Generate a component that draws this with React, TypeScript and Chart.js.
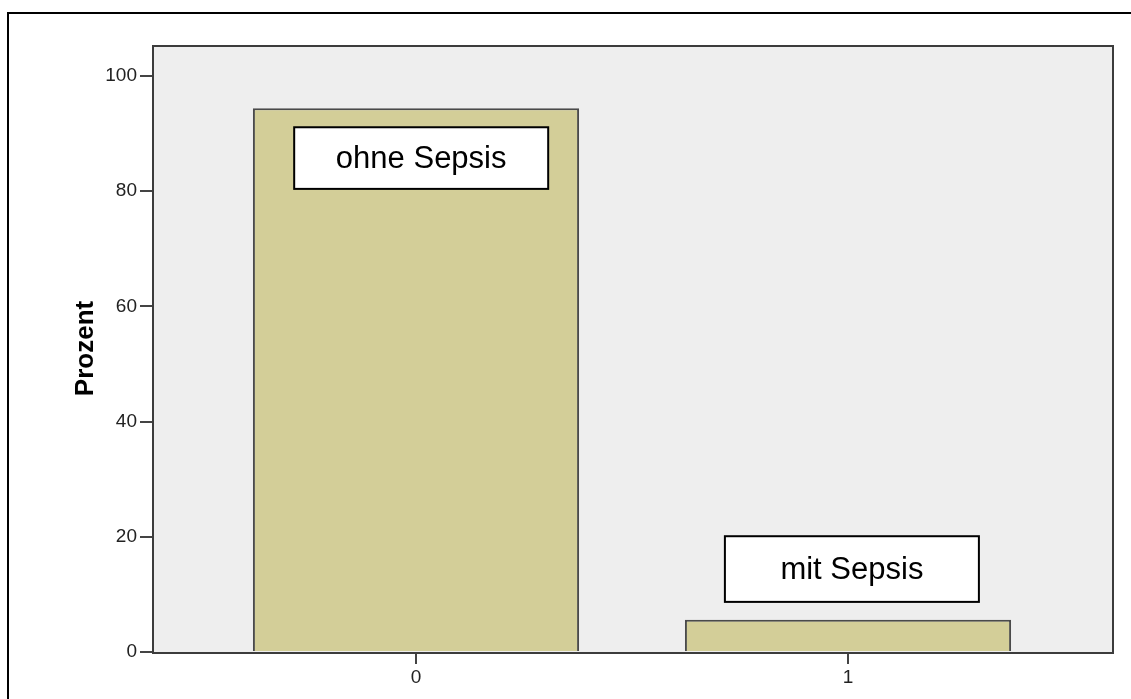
import React, { useEffect, useRef } from "react";
import { Chart, registerables } from "chart.js";

Chart.register(...registerables);

// ---- data ----
const categories = [0, 1];
const percentValues = [94.4, 5.6];
const yTickValues = [0, 20, 40, 60, 80, 100];
const xTickLabels = ["0", "1"];
const boxTexts = ["ohne Sepsis", "mit Sepsis"];
const boxCenterX = [0.012, 1.009];
const boxTopValues = [91.1, 20.1];
const boxBottomValues = [80.4, 8.7];
const yAxisTitle = "Prozent";

const W = 1131;
const H = 699;

export default function App() {
  const ref = useRef<HTMLCanvasElement | null>(null);

  useEffect(() => {
    const canvas = ref.current;
    if (!canvas) return;

    const decor = {
      id: "decor",
      beforeDraw(chart: any) {
        const ctx = chart.ctx;
        const a = chart.chartArea;
        ctx.save();
        ctx.fillStyle = "#ffffff";
        ctx.fillRect(0, 0, W, H);
        // outer frame
        ctx.fillStyle = "#000000";
        ctx.fillRect(7, 12, W, 2);
        ctx.fillRect(7, 12, 2, H);
        // plot background
        ctx.fillStyle = "#eeeeee";
        ctx.fillRect(a.left, a.top, a.right - a.left, a.bottom - a.top);
        ctx.restore();
      },
      afterDatasetsDraw(chart: any) {
        const ctx = chart.ctx;
        const a = chart.chartArea;
        const xs = chart.scales.x;
        const ys = chart.scales.y;
        ctx.save();
        // plot border
        ctx.strokeStyle = "#3c3c3c";
        ctx.lineWidth = 2;
        ctx.strokeRect(a.left + 1, a.top + 1, a.right - a.left - 2, a.bottom - a.top);
        // label boxes
        const boxW = 254;
        for (let i = 0; i < boxTexts.length; i++) {
          const cx = xs.getPixelForValue(boxCenterX[i]);
          const top = ys.getPixelForValue(boxTopValues[i]);
          const bottom = ys.getPixelForValue(boxBottomValues[i]);
          ctx.fillStyle = "#ffffff";
          ctx.fillRect(cx - boxW / 2, top, boxW, bottom - top);
          ctx.strokeStyle = "#000000";
          ctx.lineWidth = 2;
          ctx.strokeRect(cx - boxW / 2, top, boxW, bottom - top);
          ctx.fillStyle = "#000000";
          ctx.font = "31px 'Liberation Sans', Arial, sans-serif";
          ctx.textAlign = "center";
          ctx.textBaseline = "middle";
          ctx.fillText(boxTexts[i], cx, (top + bottom) / 2 + 1);
        }
        // y-axis title
        ctx.translate(86, (a.top + a.bottom) / 2);
        ctx.rotate(-Math.PI / 2);
        ctx.font = "bold 26px 'Liberation Sans', Arial, sans-serif";
        ctx.fillStyle = "#000000";
        ctx.textAlign = "center";
        ctx.textBaseline = "middle";
        ctx.fillText(yAxisTitle, 0, 0);
        ctx.restore();
      },
    };

    const tickFont = { family: "'Liberation Sans Narrow', 'Liberation Sans', Arial, sans-serif", size: 19 };

    const chart = new Chart(canvas, {
      type: "bar",
      data: {
        datasets: [
          {
            data: categories.map((c, i) => ({ x: c, y: percentValues[i] })),
            backgroundColor: "#d3ce98",
            borderColor: "#4a4a4a",
            borderWidth: 2,
            categoryPercentage: 1,
            barPercentage: 0.755,
          },
        ],
      },
      options: {
        animation: false,
        responsive: false,
        devicePixelRatio: 1,
        layout: { padding: { left: 0, top: 45, right: 17, bottom: 0 } },
        plugins: { legend: { display: false }, tooltip: { enabled: false } },
        scales: {
          x: {
            type: "linear",
            offset: false,
            min: -0.6111,
            max: 1.6157,
            afterBuildTicks: (s: any) => {
              s.ticks = categories.map((v) => ({ value: v }));
            },
            afterFit: (s: any) => {
              s.height = H - 652;
            },
            ticks: {
              font: tickFont,
              color: "#222222",
              padding: 2,
              maxRotation: 0,
              callback: (v: any) => xTickLabels[categories.indexOf(Number(v))] ?? "",
            },
            grid: {
              display: true,
              offset: false,
              drawOnChartArea: false,
              drawTicks: true,
              tickLength: 12,
              color: "#444444",
              lineWidth: 2,
            },
            border: { display: false },
          },
          y: {
            type: "linear",
            min: 0,
            max: 105.38,
            afterBuildTicks: (s: any) => {
              s.ticks = yTickValues.map((v) => ({ value: v }));
            },
            afterFit: (s: any) => {
              s.width = 152;
            },
            ticks: {
              font: tickFont,
              color: "#222222",
              padding: 3,
            },
            grid: {
              display: true,
              drawOnChartArea: false,
              drawTicks: true,
              tickLength: 12,
              color: "#444444",
              lineWidth: 2,
            },
            border: { display: false },
          },
        },
      },
      plugins: [decor],
    } as any);

    return () => chart.destroy();
  }, []);

  return (
    <div style={{ position: "absolute", left: 0, top: 0, width: W, height: H, background: "#fff" }}>
      <canvas ref={ref} width={W} height={H} style={{ display: "block", width: W, height: H }} />
    </div>
  );
}
